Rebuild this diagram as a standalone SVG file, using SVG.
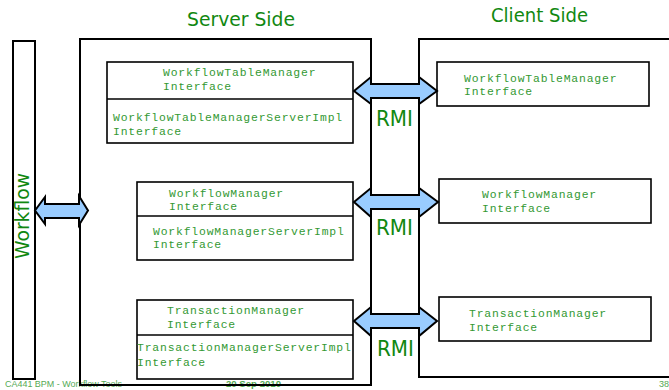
<svg xmlns="http://www.w3.org/2000/svg" width="669" height="390" viewBox="0 0 669 390">
<style>
.box{fill:#fff;stroke:#000;stroke-width:1.6}
.frame{fill:none;stroke:#000;stroke-width:2}
.mono{font-family:"Liberation Mono","Courier New",monospace;font-size:11.4px;letter-spacing:0.83px;fill:#339933}
.title{font-family:"DejaVu Sans","Noto Sans",sans-serif;fill:#118811}
.arrow{fill:#99ccff;stroke:#000;stroke-width:2;stroke-linejoin:miter}
.foot{font-family:"Liberation Sans",Arial,sans-serif;font-size:9px;fill:#55aa55}
</style>
<rect width="669" height="390" fill="#fff"/>
<g id="footer">
<text class="foot" x="5" y="387" textLength="117" lengthAdjust="spacingAndGlyphs">CA441 BPM - Workflow Tools</text>
<text class="foot" x="226" y="387" font-weight="bold" fill="#339933" textLength="55" lengthAdjust="spacingAndGlyphs">20 Sep 2010</text>
<text class="foot" x="659" y="387">38</text>
</g>
<g id="workflow">
<rect class="frame" x="13" y="41" width="22" height="338"/>
<text class="title" font-size="20" transform="translate(29 259) rotate(-90)" textLength="86" lengthAdjust="spacingAndGlyphs">Workflow</text>
</g>
<g id="server">
<rect class="frame" x="80" y="39" width="291" height="346"/>
<text class="title" font-size="19" x="187" y="26" textLength="108" lengthAdjust="spacingAndGlyphs">Server Side</text>
</g>
<g id="client">
<path class="frame" d="M669 39H419V377H669"/>
<text class="title" font-size="19" x="491" y="22" textLength="97" lengthAdjust="spacingAndGlyphs">Client Side</text>
</g>
<g id="srv-table">
<rect class="box" x="107" y="62" width="246" height="81"/>
<line x1="107" y1="99" x2="353" y2="99" stroke="#000" stroke-width="1.4"/>
<text class="mono" x="163" y="76">WorkflowTableManager</text>
<text class="mono" x="163" y="90">Interface</text>
<text class="mono" x="113" y="121">WorkflowTableManagerServerImpl</text>
<text class="mono" x="113" y="135">Interface</text>
</g>
<g id="srv-wfm">
<rect class="box" x="137" y="182" width="216" height="78"/>
<line x1="137" y1="216" x2="353" y2="216" stroke="#000" stroke-width="1.4"/>
<text class="mono" x="169" y="197">WorkflowManager</text>
<text class="mono" x="169" y="210">Interface</text>
<text class="mono" x="153" y="235">WorkflowManagerServerImpl</text>
<text class="mono" x="153" y="248">Interface</text>
</g>
<g id="srv-txm">
<rect class="box" x="137" y="300" width="216" height="79"/>
<line x1="137" y1="335" x2="353" y2="335" stroke="#000" stroke-width="1.4"/>
<text class="mono" x="167" y="314">TransactionManager</text>
<text class="mono" x="167" y="328">Interface</text>
<text class="mono" x="137" y="351">TransactionManagerServerImpl</text>
<text class="mono" x="137" y="366">Interface</text>
</g>
<g id="cli-table">
<rect class="box" x="437" y="62" width="212" height="44" stroke-width="2"/>
<text class="mono" x="464" y="82">WorkflowTableManager</text>
<text class="mono" x="464" y="95">Interface</text>
</g>
<g id="cli-wfm">
<rect class="box" x="439" y="179" width="212" height="44" stroke-width="2"/>
<text class="mono" x="482" y="198">WorkflowManager</text>
<text class="mono" x="482" y="212">Interface</text>
</g>
<g id="cli-txm">
<rect class="box" x="439" y="297" width="212" height="44" stroke-width="2"/>
<text class="mono" x="469" y="317">TransactionManager</text>
<text class="mono" x="469" y="331">Interface</text>
</g>
<g id="connectors">
<polygon class="arrow" points="35,210.5 45,197 45,204 79,204 79,196 88,210.5 79,225 79,218 45,218 45,224"/>
<polygon class="arrow" points="354,91 371,77 371,84 419,84 419,77 437,91 419,104 419,98 371,98 371,104"/>
<polygon class="arrow" points="354,202 371,188 371,195 419,195 419,188 438,202 419,217 419,209 371,209 371,217"/>
<polygon class="arrow" points="354,321 371,307 371,314 419,314 419,307 437,321 419,336 419,328 371,328 371,336"/>
</g>
<g id="rmi-labels">
<text class="title" font-size="22" x="376" y="126" textLength="37" lengthAdjust="spacingAndGlyphs">RMI</text>
<text class="title" font-size="22" x="376" y="235" textLength="37" lengthAdjust="spacingAndGlyphs">RMI</text>
<text class="title" font-size="22" x="377" y="356" textLength="37" lengthAdjust="spacingAndGlyphs">RMI</text>
</g>
</svg>
